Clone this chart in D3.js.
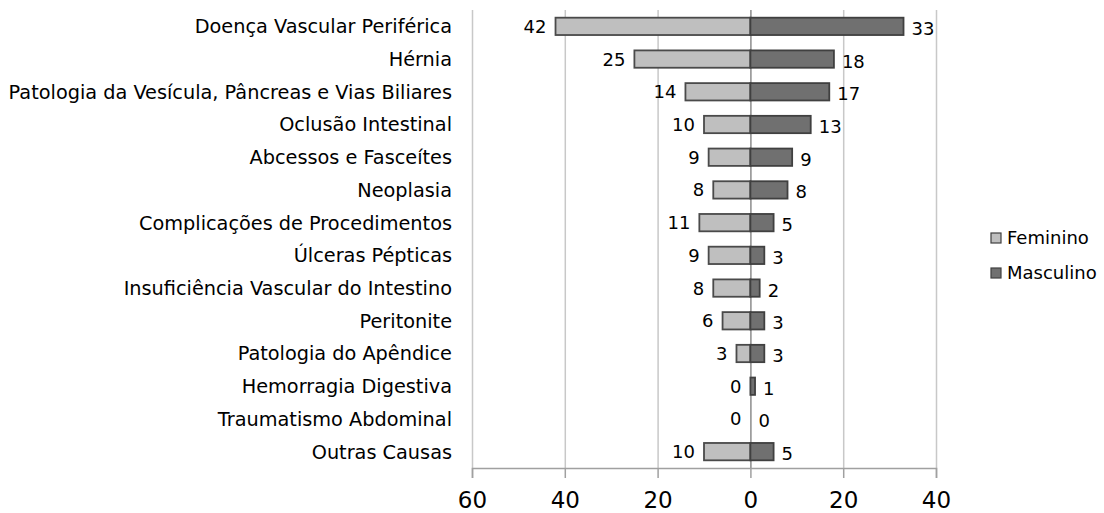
<!DOCTYPE html>
<html>
<head>
<meta charset="utf-8">
<script src="https://cdn.jsdelivr.net/npm/d3@7"></script>
<style>
  body { margin: 0; background: #fff; }
  svg { display: block; }
</style>
</head>
<body>
<svg id="chart" width="1104" height="513"></svg>
<script>
// categorias (de cima para baixo)
const categories = [
    "Doença Vascular Periférica",
    "Hérnia",
    "Patologia da Vesícula, Pâncreas e Vias Biliares",
    "Oclusão Intestinal",
    "Abcessos e Fasceítes",
    "Neoplasia",
    "Complicações de Procedimentos",
    "Úlceras Pépticas",
    "Insuficiência Vascular do Intestino",
    "Peritonite",
    "Patologia do Apêndice",
    "Hemorragia Digestiva",
    "Traumatismo Abdominal",
    "Outras Causas"
];
const feminino = [42, 25, 14, 10, 9, 8, 11, 9, 8, 6, 3, 0, 0, 10];
const masculino = [33, 18, 17, 13, 9, 8, 5, 3, 2, 3, 3, 1, 0, 5];
const xTicks = [-60, -40, -20, 0, 20, 40];
const seriesNames = ["Feminino", "Masculino"];

const svg = d3.select("#chart");
const font = "DejaVu Sans, Verdana, sans-serif";

const x = d3.scaleLinear().domain([-60, 40]).range([472, 936]);
const y = d3.scaleBand().domain(categories).range([10, 468]).paddingInner(0.47).paddingOuter(0.235);

// linhas de grelha verticais
svg.append("g")
    .selectAll("line")
    .data(xTicks)
    .enter()
    .append("line")
    .attr("x1", d => x(d) + 0.5)
    .attr("x2", d => x(d) + 0.5)
    .attr("y1", 10)
    .attr("y2", 468)
    .attr("stroke", d => d === 0 ? "#8c8c8c" : "#c8c8c8")
    .attr("stroke-width", 1.5);

// eixo x
const xAxis = svg.append("g")
    .attr("transform", "translate(0,468)")
    .call(d3.axisBottom(x).tickValues(xTicks).tickSize(10).tickPadding(14).tickFormat(d => Math.abs(d)));
xAxis.select(".domain").attr("stroke", "#a0a0a0").attr("stroke-width", 1.5);
xAxis.selectAll(".tick line").attr("stroke", "#a0a0a0").attr("stroke-width", 1.5);
xAxis.selectAll(".tick text")
    .style("font-family", font)
    .style("font-size", "23px")
    .attr("fill", "#000");

// barras femininas (à esquerda)
svg.append("g")
    .selectAll("rect")
    .data(categories)
    .enter()
    .append("rect")
    .attr("x", (d, i) => x(-feminino[i]))
    .attr("y", d => y(d))
    .attr("width", (d, i) => x(0) - x(-feminino[i]))
    .attr("height", y.bandwidth())
    .attr("fill", "#bfbfbf")
    .attr("stroke", "#4a4a4a")
    .attr("stroke-width", (d, i) => feminino[i] === 0 ? 0 : 1.8);

// barras masculinas (à direita)
svg.append("g")
    .selectAll("rect")
    .data(categories)
    .enter()
    .append("rect")
    .attr("x", x(0))
    .attr("y", d => y(d))
    .attr("width", (d, i) => x(masculino[i]) - x(0))
    .attr("height", y.bandwidth())
    .attr("fill", "#707070")
    .attr("stroke", "#404040")
    .attr("stroke-width", (d, i) => masculino[i] === 0 ? 0 : 1.8);

// rótulos de valores
svg.append("g")
    .selectAll("text")
    .data(categories)
    .enter()
    .append("text")
    .attr("x", (d, i) => x(-feminino[i]) - 9)
    .attr("y", d => y(d) + y.bandwidth() / 2)
    .attr("dy", "0.36em")
    .attr("text-anchor", "end")
    .style("font-family", font)
    .style("font-size", "18px")
    .text((d, i) => feminino[i]);

svg.append("g")
    .selectAll("text")
    .data(categories)
    .enter()
    .append("text")
    .attr("x", (d, i) => x(masculino[i]) + 8)
    .attr("y", d => y(d) + y.bandwidth() / 2 + 2)
    .attr("dy", "0.36em")
    .attr("text-anchor", "start")
    .style("font-family", font)
    .style("font-size", "18px")
    .text((d, i) => masculino[i]);

// nomes das categorias
svg.append("g")
    .selectAll("text")
    .data(categories)
    .enter()
    .append("text")
    .attr("x", 452)
    .attr("y", d => y(d) + y.bandwidth() / 2)
    .attr("dy", "0.36em")
    .attr("text-anchor", "end")
    .style("font-family", font)
    .style("font-size", "19.3px")
    .text(d => d);

// legenda
const legend = svg.append("g")
    .selectAll("g")
    .data(seriesNames)
    .enter()
    .append("g")
    .attr("transform", (d, i) => `translate(991,${233 + i * 35})`);

legend.append("rect")
    .attr("width", 10)
    .attr("height", 10)
    .attr("fill", (d, i) => i === 0 ? "#bfbfbf" : "#707070")
    .attr("stroke", "#404040")
    .attr("stroke-width", 1.2);

legend.append("text")
    .attr("x", 16)
    .attr("y", 5)
    .attr("dy", "0.36em")
    .style("font-family", font)
    .style("font-size", "18px")
    .text(d => d);
</script>
</body>
</html>
